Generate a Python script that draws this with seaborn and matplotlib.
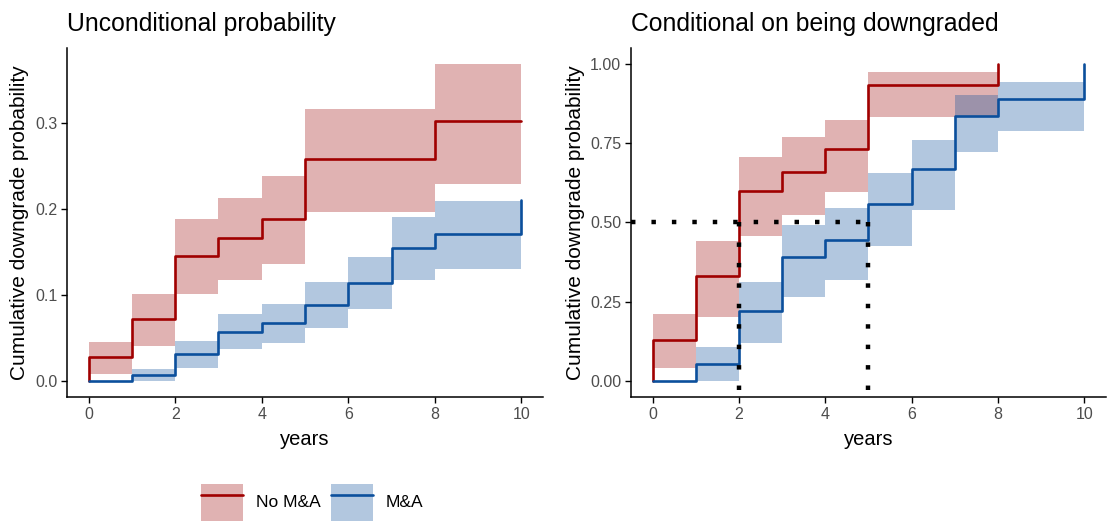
import matplotlib
matplotlib.use("Agg")
import matplotlib.pyplot as plt
from matplotlib.patches import Patch
from matplotlib.lines import Line2D
import seaborn as sns
import pandas as pd

# unconditional panel: cumulative downgrade probability with 95% bands
unc_noma_t = [0, 0, 1, 2, 3, 4, 5, 8, 10]
unc_noma_p = [0.0, 0.0275, 0.0717, 0.1457, 0.167, 0.189, 0.2585, 0.3027, 0.3027]
unc_noma_band_t = [0, 1, 2, 3, 4, 5, 8, 10]
unc_noma_lo = [0.008, 0.041, 0.1008, 0.1174, 0.1364, 0.1965, 0.2287, 0.2287]
unc_noma_hi = [0.045, 0.1008, 0.1888, 0.2128, 0.239, 0.3163, 0.3686, 0.3686]

unc_ma_t = [0, 1, 2, 3, 4, 5, 6, 7, 8, 10]
unc_ma_p = [0.0, 0.007, 0.0314, 0.0574, 0.067, 0.0884, 0.1136, 0.1547, 0.1713, 0.211]
unc_ma_band_t = [0, 1, 2, 3, 4, 5, 6, 7, 8, 10]
unc_ma_lo = [0.0, 0.0, 0.0155, 0.0368, 0.0438, 0.062, 0.0833, 0.1174, 0.1302, 0.1302]
unc_ma_hi = [0.0, 0.014, 0.0465, 0.0775, 0.0891, 0.1147, 0.1446, 0.191, 0.2097, 0.2097]

# conditional on being downgraded
con_noma_t = [0, 0, 1, 2, 3, 4, 5, 8]
con_noma_p = [0.0, 0.131, 0.332, 0.599, 0.660, 0.732, 0.934, 1.0]
con_noma_band_t = [0, 1, 2, 3, 4, 5, 8]
con_noma_lo = [0.042, 0.203, 0.457, 0.525, 0.595, 0.831, 0.831]
con_noma_hi = [0.213, 0.442, 0.707, 0.768, 0.824, 0.974, 0.974]

con_ma_t = [0, 1, 2, 3, 4, 5, 6, 7, 8, 10]
con_ma_p = [0.0, 0.0547, 0.222, 0.390, 0.446, 0.557, 0.670, 0.834, 0.889, 1.0]
con_ma_band_t = [0, 1, 2, 3, 4, 5, 6, 7, 8, 10]
con_ma_lo = [0.0, 0.0, 0.121, 0.265, 0.318, 0.426, 0.539, 0.722, 0.789, 0.789]
con_ma_hi = [0.0, 0.107, 0.311, 0.491, 0.547, 0.657, 0.760, 0.901, 0.943, 0.943]

median_level = 0.5
median_times = [2, 5]

groups = ["No M&A", "M&A"]
line_cols = {"No M&A": "#a00000", "M&A": "#0b4f9c"}
band_cols = {"No M&A": "#990000", "M&A": "#004898"}

sns.set_style("ticks")
plt.rcParams["font.family"] = ["Liberation Sans", "DejaVu Sans"]
plt.rcParams["text.color"] = "black"
plt.rcParams["axes.labelcolor"] = "black"

fig = plt.figure(figsize=(11.07, 5.21), dpi=100)
ax1 = fig.add_axes([0.0605, 0.238, 0.430, 0.670])
ax2 = fig.add_axes([0.570, 0.238, 0.429, 0.670])


def draw_panel(ax, title, lines, bands, ylim, yticks, yfmt):
    for g in groups:
        bt, lo, hi = bands[g]
        ax.fill_between(bt, lo, hi, step="post", color=band_cols[g], alpha=0.3, lw=0)
    df = pd.concat([pd.DataFrame({"years": t, "prob": p, "group": g})
                    for g, (t, p) in lines.items()])
    sns.lineplot(data=df, x="years", y="prob", hue="group", palette=line_cols,
                 drawstyle="steps-post", estimator=None, lw=1.9, legend=False, ax=ax)
    ax.set_xlim(-0.5, 10.5)
    ax.set_ylim(*ylim)
    ax.set_xticks([0, 2, 4, 6, 8, 10])
    ax.set_yticks(yticks)
    ax.set_yticklabels([yfmt.format(v) for v in yticks])
    ax.set_xlabel("years", fontsize=14.5, labelpad=6)
    ax.set_ylabel("Cumulative downgrade probability", fontsize=15, labelpad=4)
    ax.set_title(title, loc="left", fontsize=17.8, pad=12, color="black")
    ax.tick_params(colors="black", labelcolor="#4d4d4d", labelsize=11.5, length=4, width=1, pad=3)
    for s in ["left", "bottom"]:
        ax.spines[s].set_linewidth(1.1)
        ax.spines[s].set_color("black")
    sns.despine(ax=ax)


draw_panel(ax1, "Unconditional probability",
           {"No M&A": (unc_noma_t, unc_noma_p), "M&A": (unc_ma_t, unc_ma_p)},
           {"No M&A": (unc_noma_band_t, unc_noma_lo, unc_noma_hi),
            "M&A": (unc_ma_band_t, unc_ma_lo, unc_ma_hi)},
           (-0.0185, 0.3875), [0.0, 0.1, 0.2, 0.3], "{:.1f}")
draw_panel(ax2, "Conditional on being downgraded",
           {"No M&A": (con_noma_t, con_noma_p), "M&A": (con_ma_t, con_ma_p)},
           {"No M&A": (con_noma_band_t, con_noma_lo, con_noma_hi),
            "M&A": (con_ma_band_t, con_ma_lo, con_ma_hi)},
           (-0.05, 1.05), [0.0, 0.25, 0.5, 0.75, 1.0], "{:.2f}")

# median reference lines
dots = dict(color="black", lw=3.2, ls=(0, (1, 3.6)), dash_capstyle="butt", zorder=5)
x_lo = ax2.get_xlim()[0]
y_lo = ax2.get_ylim()[0]
ax2.plot([x_lo, max(median_times)], [median_level, median_level], **dots)
for mt in median_times:
    ax2.plot([mt, mt], [median_level, y_lo], **dots)

handles = [(Patch(facecolor=band_cols[g], alpha=0.3, lw=0),
            Line2D([], [], color=line_cols[g], lw=1.9)) for g in groups]
fig.legend(handles, groups, loc="lower center", bbox_to_anchor=(0.282, -0.016),
           ncol=2, frameon=False, fontsize=12.5, handlelength=2.4, handleheight=2.9,
           handletextpad=0.75, columnspacing=0.6, borderpad=0, labelcolor="black")

fig.savefig("out.png", dpi=100)
